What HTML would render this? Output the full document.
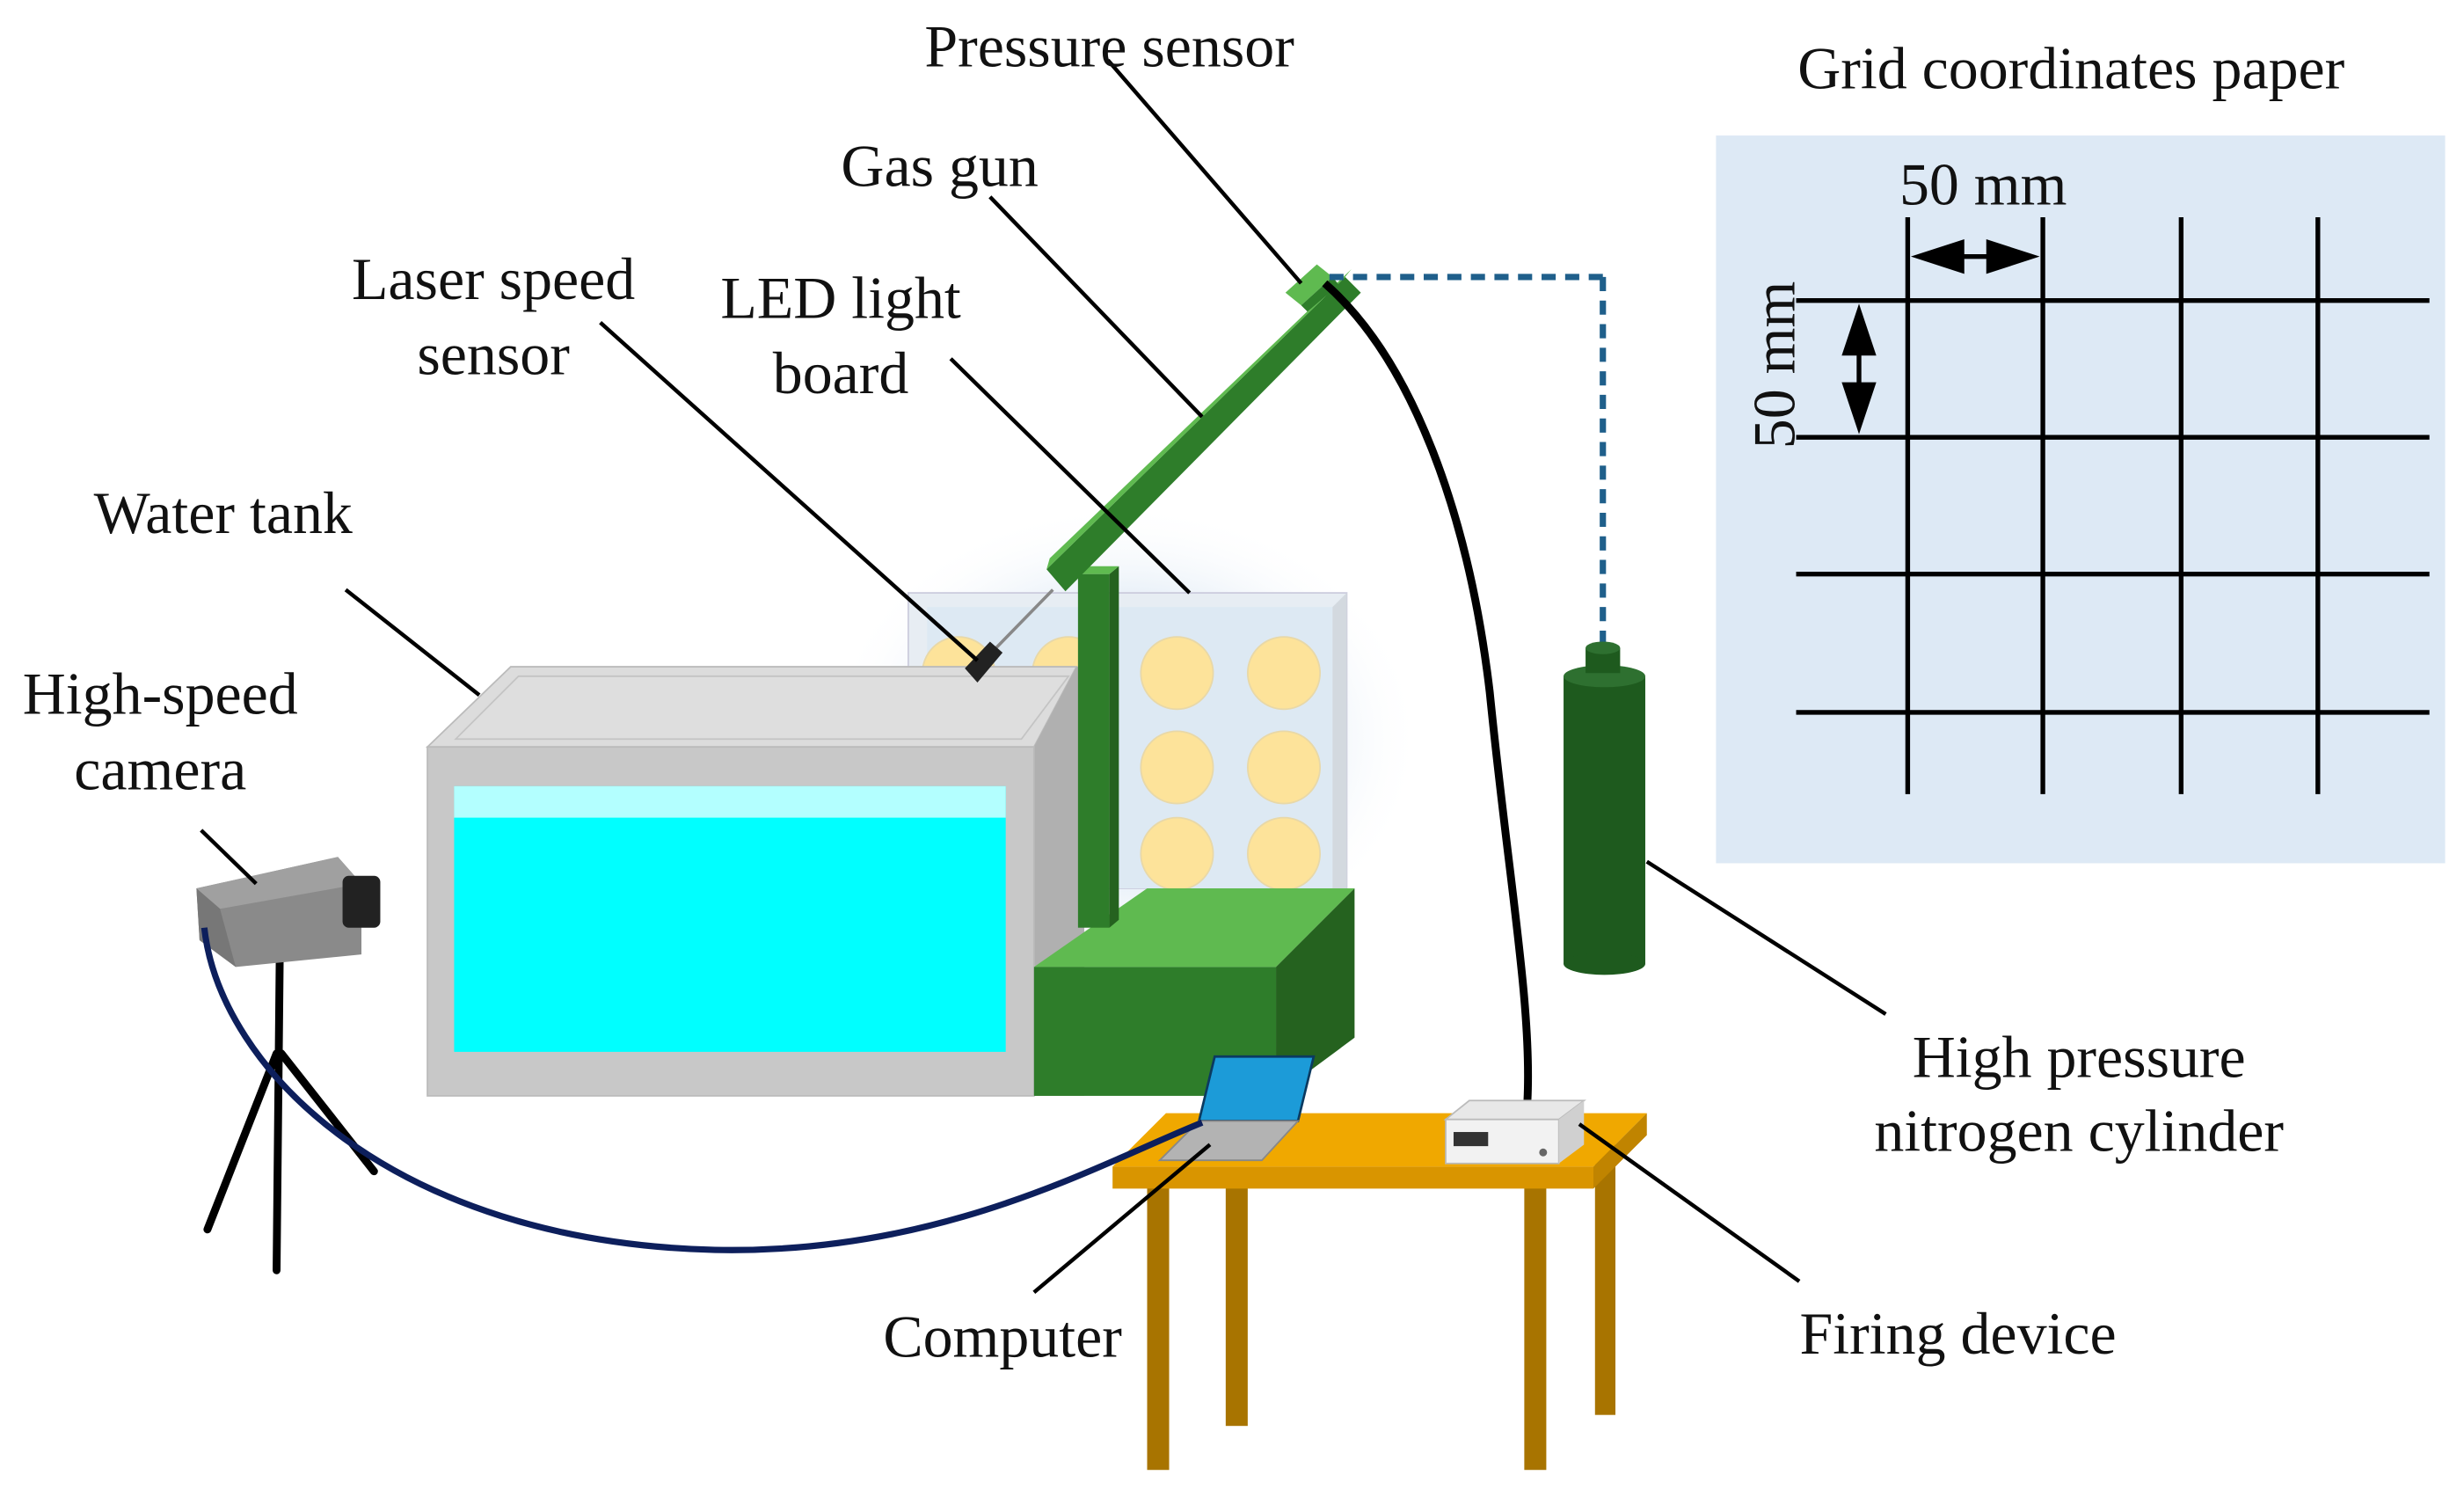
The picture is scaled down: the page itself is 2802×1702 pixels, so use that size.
<!DOCTYPE html>
<html><head><meta charset="utf-8"><style>
html,body{margin:0;padding:0;background:#fff;}
svg{display:block;}
text{font-family:"Liberation Serif",serif;font-size:38px;fill:#111;}
</style></head><body>
<svg width="2802" height="1702" viewBox="0 0 1568 952" xmlns="http://www.w3.org/2000/svg">
<defs>
<radialGradient id="glow" cx="0.5" cy="0.5" r="0.5"><stop offset="0.6" stop-color="#e8f0f8"/><stop offset="1" stop-color="#fff" stop-opacity="0"/></radialGradient>
</defs>
<!-- Grid panel -->
<rect x="1092" y="86" width="464" height="463" fill="#dde9f5"/>
<g stroke="#000" stroke-width="3">
<line x1="1143" y1="191" x2="1546" y2="191"/><line x1="1143" y1="278" x2="1546" y2="278"/>
<line x1="1143" y1="365" x2="1546" y2="365"/><line x1="1143" y1="453" x2="1546" y2="453"/>
<line x1="1214" y1="138" x2="1214" y2="505"/><line x1="1300" y1="138" x2="1300" y2="505"/>
<line x1="1388" y1="138" x2="1388" y2="505"/><line x1="1475" y1="138" x2="1475" y2="505"/>
</g>
<g fill="#000"><polygon points="1216,163 1250,152 1250,174"/><polygon points="1298,163 1264,152 1264,174"/>
<line x1="1248" y1="163" x2="1266" y2="163" stroke="#000" stroke-width="3"/>
<polygon points="1183,193 1172,226 1194,226"/><polygon points="1183,276 1172,243 1194,243"/>
<line x1="1183" y1="224" x2="1183" y2="245" stroke="#000" stroke-width="3"/></g>
<text x="1318" y="56" text-anchor="middle">Grid coordinates paper</text>
<text x="1262" y="130" text-anchor="middle">50 mm</text>
<text x="1142" y="232" text-anchor="middle" transform="rotate(-90 1142 232)">50 mm</text>
<!-- LED board glow -->
<ellipse cx="715" cy="470" rx="190" ry="150" fill="url(#glow)"/>
<rect x="578" y="377" width="279" height="188" fill="#e7edf3" stroke="#ccd" stroke-width="1"/>
<rect x="590" y="386" width="258" height="179" fill="#dde9f3"/>
<polygon points="848,386 857,377 857,565 848,565" fill="#d3d9df"/>
<g fill="#fde39a" stroke="#e8d8a8"><circle cx="610" cy="428" r="23"/><circle cx="680" cy="428" r="23"/>
<circle cx="749" cy="428" r="23"/><circle cx="817" cy="428" r="23"/><circle cx="749" cy="488" r="23"/><circle cx="817" cy="488" r="23"/>
<circle cx="749" cy="543" r="23"/><circle cx="817" cy="543" r="23"/></g>
<!-- Water tank -->
<polygon points="272,475 325,424 685,424 658,475" fill="#dcdcdc" stroke="#bbb"/>
<polygon points="290,470 330,430 680,430 650,470" fill="#dedede" stroke="#c4c4c4"/>
<polygon points="658,475 685,424 690,424 690,697 658,697" fill="#b0b0b0"/>
<rect x="272" y="475" width="386" height="222" fill="#c8c8c8" stroke="#bbb"/>
<rect x="289" y="500" width="351" height="169" fill="#00ffff"/>
<rect x="289" y="500" width="351" height="20" fill="#b3ffff"/>
<!-- Green base -->
<polygon points="658,615 730,565 862,565 812,615" fill="#5fba50"/>
<rect x="658" y="615" width="154" height="82" fill="#2e7d2a"/>
<polygon points="812,615 862,565 862,660 812,697" fill="#25621f"/>
<!-- Post -->
<rect x="686" y="365" width="20" height="225" fill="#2e7d2a"/>
<polygon points="706,365 712,360 712,585 706,590" fill="#25621f"/>
<polygon points="686,365 692,360 712,360 706,365" fill="#5fba50"/>
<!-- laser sensor -->
<line x1="628" y1="418" x2="670" y2="375" stroke="#888" stroke-width="2"/>
<polygon points="614,425 630,408 638,415 622,434" fill="#222"/>
<!-- Gas gun -->
<polygon points="666,362 856,176 866,186 678,376" fill="#2e7d2a"/>
<polygon points="666,362 856,176 860,171 668,355" fill="#5fba50"/>
<polygon points="818,186 838,168 848,176 828,194" fill="#5fba50"/>
<polygon points="828,194 848,176 852,181 832,198" fill="#2e7d2a"/>
<!-- cables -->
<path d="M1020,176 H840" fill="none" stroke="#1f5f8b" stroke-width="4" stroke-dasharray="9,6"/>
<path d="M1020,176 V410" fill="none" stroke="#1f5f8b" stroke-width="4" stroke-dasharray="9,6"/>
<path d="M843,180 C900,230 935,330 948,440 C960,560 975,640 972,700" fill="none" stroke="#000" stroke-width="5"/>
<!-- Cylinder -->
<rect x="995" y="430" width="52" height="183" fill="#1e5a1e"/>
<ellipse cx="1021" cy="613" rx="26" ry="7" fill="#1e5a1e"/>
<ellipse cx="1021" cy="430" rx="26" ry="7" fill="#2e7030"/>
<rect x="1009" y="412" width="22" height="16" fill="#1e5a1e"/>
<ellipse cx="1020" cy="412" rx="11" ry="4" fill="#2e7030"/>
<!-- Table -->
<rect x="730" y="755" width="14" height="180" fill="#a87400"/>
<rect x="780" y="755" width="14" height="152" fill="#a87400"/>
<rect x="970" y="755" width="14" height="180" fill="#a87400"/>
<rect x="1015" y="725" width="13" height="175" fill="#a87400"/>
<polygon points="708,742 742,708 1048,708 1014,742" fill="#f0a800"/>
<polygon points="708,742 1014,742 1014,756 708,756" fill="#d99500"/>
<polygon points="1014,742 1048,708 1048,722 1014,756" fill="#c08400"/>
<!-- Laptop -->
<polygon points="763,713 773,672 836,672 826,713" fill="#1c9bd8" stroke="#0b3a60" stroke-width="1.5"/>
<polygon points="738,738 763,713 826,713 803,738" fill="#b3b3b3" stroke="#888"/>
<!-- Firing device -->
<polygon points="920,712 935,700 1008,700 992,712" fill="#e8e8e8" stroke="#bbb"/>
<rect x="920" y="712" width="72" height="28" fill="#f2f2f2" stroke="#bbb"/>
<polygon points="992,712 1008,700 1008,728 992,740" fill="#d0d0d0"/>
<rect x="925" y="720" width="22" height="9" fill="#333"/>
<circle cx="982" cy="733" r="2.5" fill="#666"/>
<!-- Camera tripod -->
<g stroke="#000" stroke-width="5" stroke-linecap="round">
<line x1="178" y1="610" x2="176" y2="808"/><line x1="176" y1="670" x2="132" y2="782"/><line x1="179" y1="670" x2="238" y2="745"/></g>
<polygon points="125,565 215,545 230,562 230,607 150,615 127,598" fill="#8a8a8a"/>
<polygon points="125,565 215,545 230,562 140,578" fill="#a0a0a0"/>
<polygon points="125,565 140,578 150,615 127,598" fill="#777"/>
<rect x="218" y="557" width="24" height="33" rx="4" fill="#222"/>
<path d="M130,590 C140,680 250,790 455,795 C600,798 700,740 765,714" fill="none" stroke="#0d1f5c" stroke-width="4"/>
<!-- Leader lines -->
<g stroke="#000" stroke-width="2.5">
<line x1="705" y1="38" x2="828" y2="180"/>
<line x1="630" y1="125" x2="765" y2="265"/>
<line x1="382" y1="205" x2="622" y2="420"/>
<line x1="605" y1="228" x2="757" y2="377"/>
<line x1="220" y1="375" x2="305" y2="442"/>
<line x1="128" y1="528" x2="163" y2="562"/>
<line x1="658" y1="822" x2="770" y2="728"/>
<line x1="1145" y1="815" x2="1005" y2="715"/>
<line x1="1200" y1="645" x2="1048" y2="548"/>
</g>
<!-- Labels -->
<text x="706" y="42" text-anchor="middle">Pressure sensor</text>
<text x="598" y="118" text-anchor="middle">Gas gun</text>
<text x="314" y="190" text-anchor="middle">Laser speed</text>
<text x="314" y="238" text-anchor="middle">sensor</text>
<text x="535" y="202" text-anchor="middle">LED light</text>
<text x="535" y="250" text-anchor="middle">board</text>
<text x="142" y="339" text-anchor="middle">Water tank</text>
<text x="102" y="454" text-anchor="middle">High-speed</text>
<text x="102" y="502" text-anchor="middle">camera</text>
<text x="638" y="863" text-anchor="middle">Computer</text>
<text x="1246" y="861" text-anchor="middle">Firing device</text>
<text x="1323" y="685" text-anchor="middle">High pressure</text>
<text x="1323" y="732" text-anchor="middle">nitrogen cylinder</text>
</svg>
</body></html>
